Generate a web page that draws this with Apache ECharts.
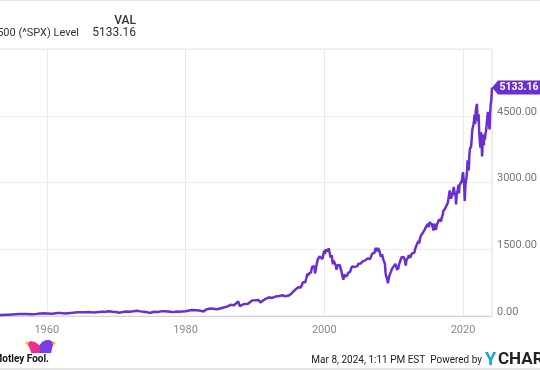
<!DOCTYPE html>
<html>
<head>
<meta charset="utf-8">
<script src="https://cdn.jsdelivr.net/npm/echarts@6/dist/echarts.min.js"></script>
<style>
html,body{margin:0;padding:0;background:#fff;}
#c{width:540px;height:370px;}
</style>
</head>
<body>
<div id="c"></div>
<script>
// Early history (fractional year, level)
var earlyYears = [1950.0,1950.5,1951.0,1951.5,1952.0,1952.5,1953.0,1953.7,1954.0,1954.5,1955.0,1955.5,1956.0,1956.5,1957.0,1957.8,1958.0,1958.5,1959.0,1959.5,1960.0,1960.8,1961.0,1961.5,1962.0,1962.5,1963.0,1963.5,1964.0,1964.5,1965.0,1965.5,1966.0,1966.8,1967.0,1967.5,1968.0,1968.5,1968.9,1969.5,1970.0,1970.4,1971.0,1971.3,1971.9,1972.5,1973.0,1973.5,1974.0,1974.5,1974.8,1975.0,1975.5,1976.0,1976.5,1977.0,1977.9,1978.2,1978.7,1979.0,1979.5,1980.0,1980.2,1980.9,1981.5,1982.0,1982.6,1982.9,1983.5,1984.0,1984.5,1985.0,1985.5,1986.0,1986.5,1987.0,1987.6,1987.8,1988.0,1988.5,1989.0,1989.6,1990.0,1990.5,1990.8,1991.0,1991.5,1992.0,1992.5,1993.0,1993.5,1994.0,1994.3,1994.9];
var earlyValues = [17,18,21,21,24,25,26,23,26,29,36,41,44,47,45,40,41,45,55,59,58,53,58,65,70,55,63,70,76,83,85,85,92,77,82,92,95,98,106,98,92,72,92,103,94,107,118,104,97,86,69,72,95,90,104,107,93,87,103,96,103,107,102,135,131,122,103,140,168,164,151,167,191,211,251,242,330,225,247,272,277,350,353,360,306,330,380,417,408,436,450,466,445,459];
// Monthly closes from 1995 onward
var monthlyStartYear = 1995;
var m1995to1999 = [470,487,500,515,533,545,562,562,584,582,605,616, 636,640,645,654,669,671,639,652,687,705,757,741, 786,791,757,801,848,885,954,899,947,915,955,970, 980,1049,1102,1112,1091,1134,1121,957,1017,1099,1164,1229, 1280,1238,1286,1335,1302,1373,1329,1320,1283,1363,1389,1469];
var m2000to2004 = [1394,1366,1499,1452,1421,1455,1431,1518,1437,1429,1315,1320, 1366,1240,1160,1249,1256,1224,1211,1134,1041,1060,1139,1148, 1130,1107,1147,1076,1067,990,912,916,815,886,936,880, 856,841,848,917,964,975,990,1008,996,1051,1058,1112, 1131,1145,1126,1107,1121,1141,1102,1104,1115,1130,1174,1212];
var m2005to2009 = [1181,1204,1181,1157,1192,1191,1234,1220,1229,1207,1249,1248, 1280,1281,1295,1311,1270,1270,1277,1304,1336,1378,1401,1418, 1438,1407,1421,1482,1531,1503,1455,1474,1527,1549,1481,1468, 1379,1331,1323,1386,1400,1280,1267,1283,1166,969,896,903, 826,735,798,873,919,919,987,1021,1057,1036,1096,1115];
var m2010to2014 = [1074,1104,1169,1187,1089,1031,1102,1049,1141,1183,1181,1258, 1286,1327,1326,1364,1345,1321,1292,1219,1131,1253,1247,1258, 1312,1366,1408,1398,1310,1362,1379,1407,1441,1412,1416,1426, 1498,1515,1569,1598,1631,1606,1686,1633,1682,1757,1806,1848, 1783,1859,1872,1884,1924,1960,1931,2003,1972,2018,2068,2059];
var m2015to2019 = [1995,2105,2068,2086,2107,2063,2104,1972,1920,2079,2080,2044, 1940,1932,2060,2065,2097,2099,2174,2171,2168,2126,2199,2239, 2279,2364,2363,2384,2412,2423,2470,2472,2519,2575,2648,2674, 2824,2714,2641,2648,2705,2718,2816,2902,2914,2712,2760,2507, 2704,2784,2834,2946,2752,2942,2980,2926,2977,3038,3141,3231];
var m2020to2024 = [3226,2954,2585,2912,3044,3100,3271,3500,3363,3270,3622,3756, 3714,3811,3973,4181,4204,4298,4395,4523,4308,4605,4567,4766, 4516,4374,4530,4132,4132,3785,4130,3955,3586,3872,4080,3840, 4077,3970,4109,4169,4180,4450,4589,4508,4288,4194,4568,4770, 4846,5096];
var lastDate = 2024.18;
var lastValue = 5133.16;

var yTicks = [0,1500,3000,4500];
var xTickYears = [1960,1980,2000,2020];

var data = [];
for (var i = 0; i < earlyYears.length; i++) data.push([earlyYears[i], earlyValues[i]]);
var monthly = [].concat(m1995to1999, m2000to2004, m2005to2009, m2010to2014, m2015to2019, m2020to2024);
for (var j = 0; j < monthly.length; j++) data.push([monthlyStartYear + (j + 1) / 12, monthly[j]]);
data.push([lastDate, lastValue]);

var purple = '#6a2fd1';
var chart = echarts.init(document.getElementById('c'), null, {renderer: 'canvas'});
chart.setOption({
  animation: false,
  backgroundColor: '#ffffff',
  grid: {left: -92, right: 48, top: 49, bottom: 54, show: true, borderColor: '#e4e4e4', borderWidth: 1, outerBoundsMode: 'none', containLabel: false},
  xAxis: {
    type: 'value', min: 1940, max: lastDate, interval: 20,
    axisLine: {show: true, lineStyle: {color: '#d4d4d4', width: 1}},
    axisTick: {show: false},
    splitLine: {show: true, lineStyle: {color: '#e9e9e9', width: 1}},
    axisLabel: {color: '#8a8a8a', fontSize: 11, fontFamily: 'Roboto', margin: 9, showMaxLabel: false, showMinLabel: false,
      formatter: function (v) { return xTickYears.indexOf(v) >= 0 ? String(v) : ''; }}
  },
  yAxis: {
    type: 'value', position: 'right', min: 0, max: 6000, interval: 1500,
    axisLine: {show: false}, axisTick: {show: false},
    splitLine: {show: true, lineStyle: {color: '#ececec', width: 1}},
    axisLabel: {color: '#777', fontSize: 11, fontFamily: 'Roboto', margin: 5, verticalAlign: 'bottom', lineHeight: 8, showMaxLabel: false,
      formatter: function (v) { return yTicks.indexOf(v) >= 0 ? v.toFixed(2) : ''; }}
  },
  series: [{
    type: 'line', data: data, showSymbol: false, symbol: 'none',
    lineStyle: {color: purple, width: 2.5},
    markPoint: {
      symbol: 'path://M0,7 L6,0 L56,0 L56,14 L6,14 Z',
      symbolSize: [56, 14], symbolOffset: [28, 0], symbolKeepAspect: false,
      itemStyle: {color: purple},
      label: {show: true, position: 'inside', offset: [-1, 0], color: '#fff', fontSize: 10.5, fontWeight: 'bold', fontFamily: 'Roboto',
        formatter: function () { return lastValue.toFixed(2); }},
      data: [{coord: [lastDate, lastValue]}]
    }
  }],
  graphic: [
    {type: 'rect', shape: {x: 0, y: 0, width: 540, height: 1}, style: {fill: '#e6e6e6'}},
    {type: 'rect', shape: {x: 0, y: 368, width: 540, height: 2}, style: {fill: '#e6e6e6'}},
    {type: 'text', x: 136, y: 21, style: {text: 'VAL', fill: '#333', font: '500 12px Roboto', align: 'right', verticalAlign: 'middle'}},
    {type: 'text', x: 79, y: 33, style: {text: 'S&P 500 (^SPX) Level', fill: '#333', font: '11px Roboto', align: 'right', verticalAlign: 'middle'}},
    {type: 'text', x: 136, y: 33, style: {text: '5133.16', fill: '#333', font: '12px Roboto', align: 'right', verticalAlign: 'middle'}},
    // Motley Fool logo
    {type: 'polygon', shape: {points: [[31,353],[30,349],[28,345],[27,343],[31,341],[35,342],[38,344],[41,347],[41,353]]}, style: {fill: '#e8338a'}},
    {type: 'polygon', shape: {points: [[51,353],[52,349],[53,345],[54,343],[50,340],[46,340],[42,342],[39,346],[40,353]]}, style: {fill: '#7a3fe0'}},
    {type: 'circle', shape: {cx: 27, cy: 343, r: 1.6}, style: {fill: '#f5c21b'}},
    {type: 'circle', shape: {cx: 54, cy: 343, r: 1.6}, style: {fill: '#f5c21b'}},
    {type: 'text', x: 49, y: 359, style: {text: 'Motley Fool.', fill: '#111', font: 'bold 10px Roboto', align: 'right', verticalAlign: 'middle'}},
    {type: 'text', x: 482, y: 360, style: {text: 'Mar 8, 2024, 1:11 PM EST  Powered by', fill: '#222', font: '10px Roboto', align: 'right', verticalAlign: 'middle'}},
    {type: 'text', x: 485, y: 360, style: {text: 'Y', fill: '#1ba3dd', font: 'bold 18px Roboto', align: 'left', verticalAlign: 'middle'}},
    {type: 'text', x: 498, y: 360, style: {text: 'CHARTS', fill: '#222', font: 'bold 17px Roboto', align: 'left', verticalAlign: 'middle'}}
  ]
});
</script>
</body>
</html>
